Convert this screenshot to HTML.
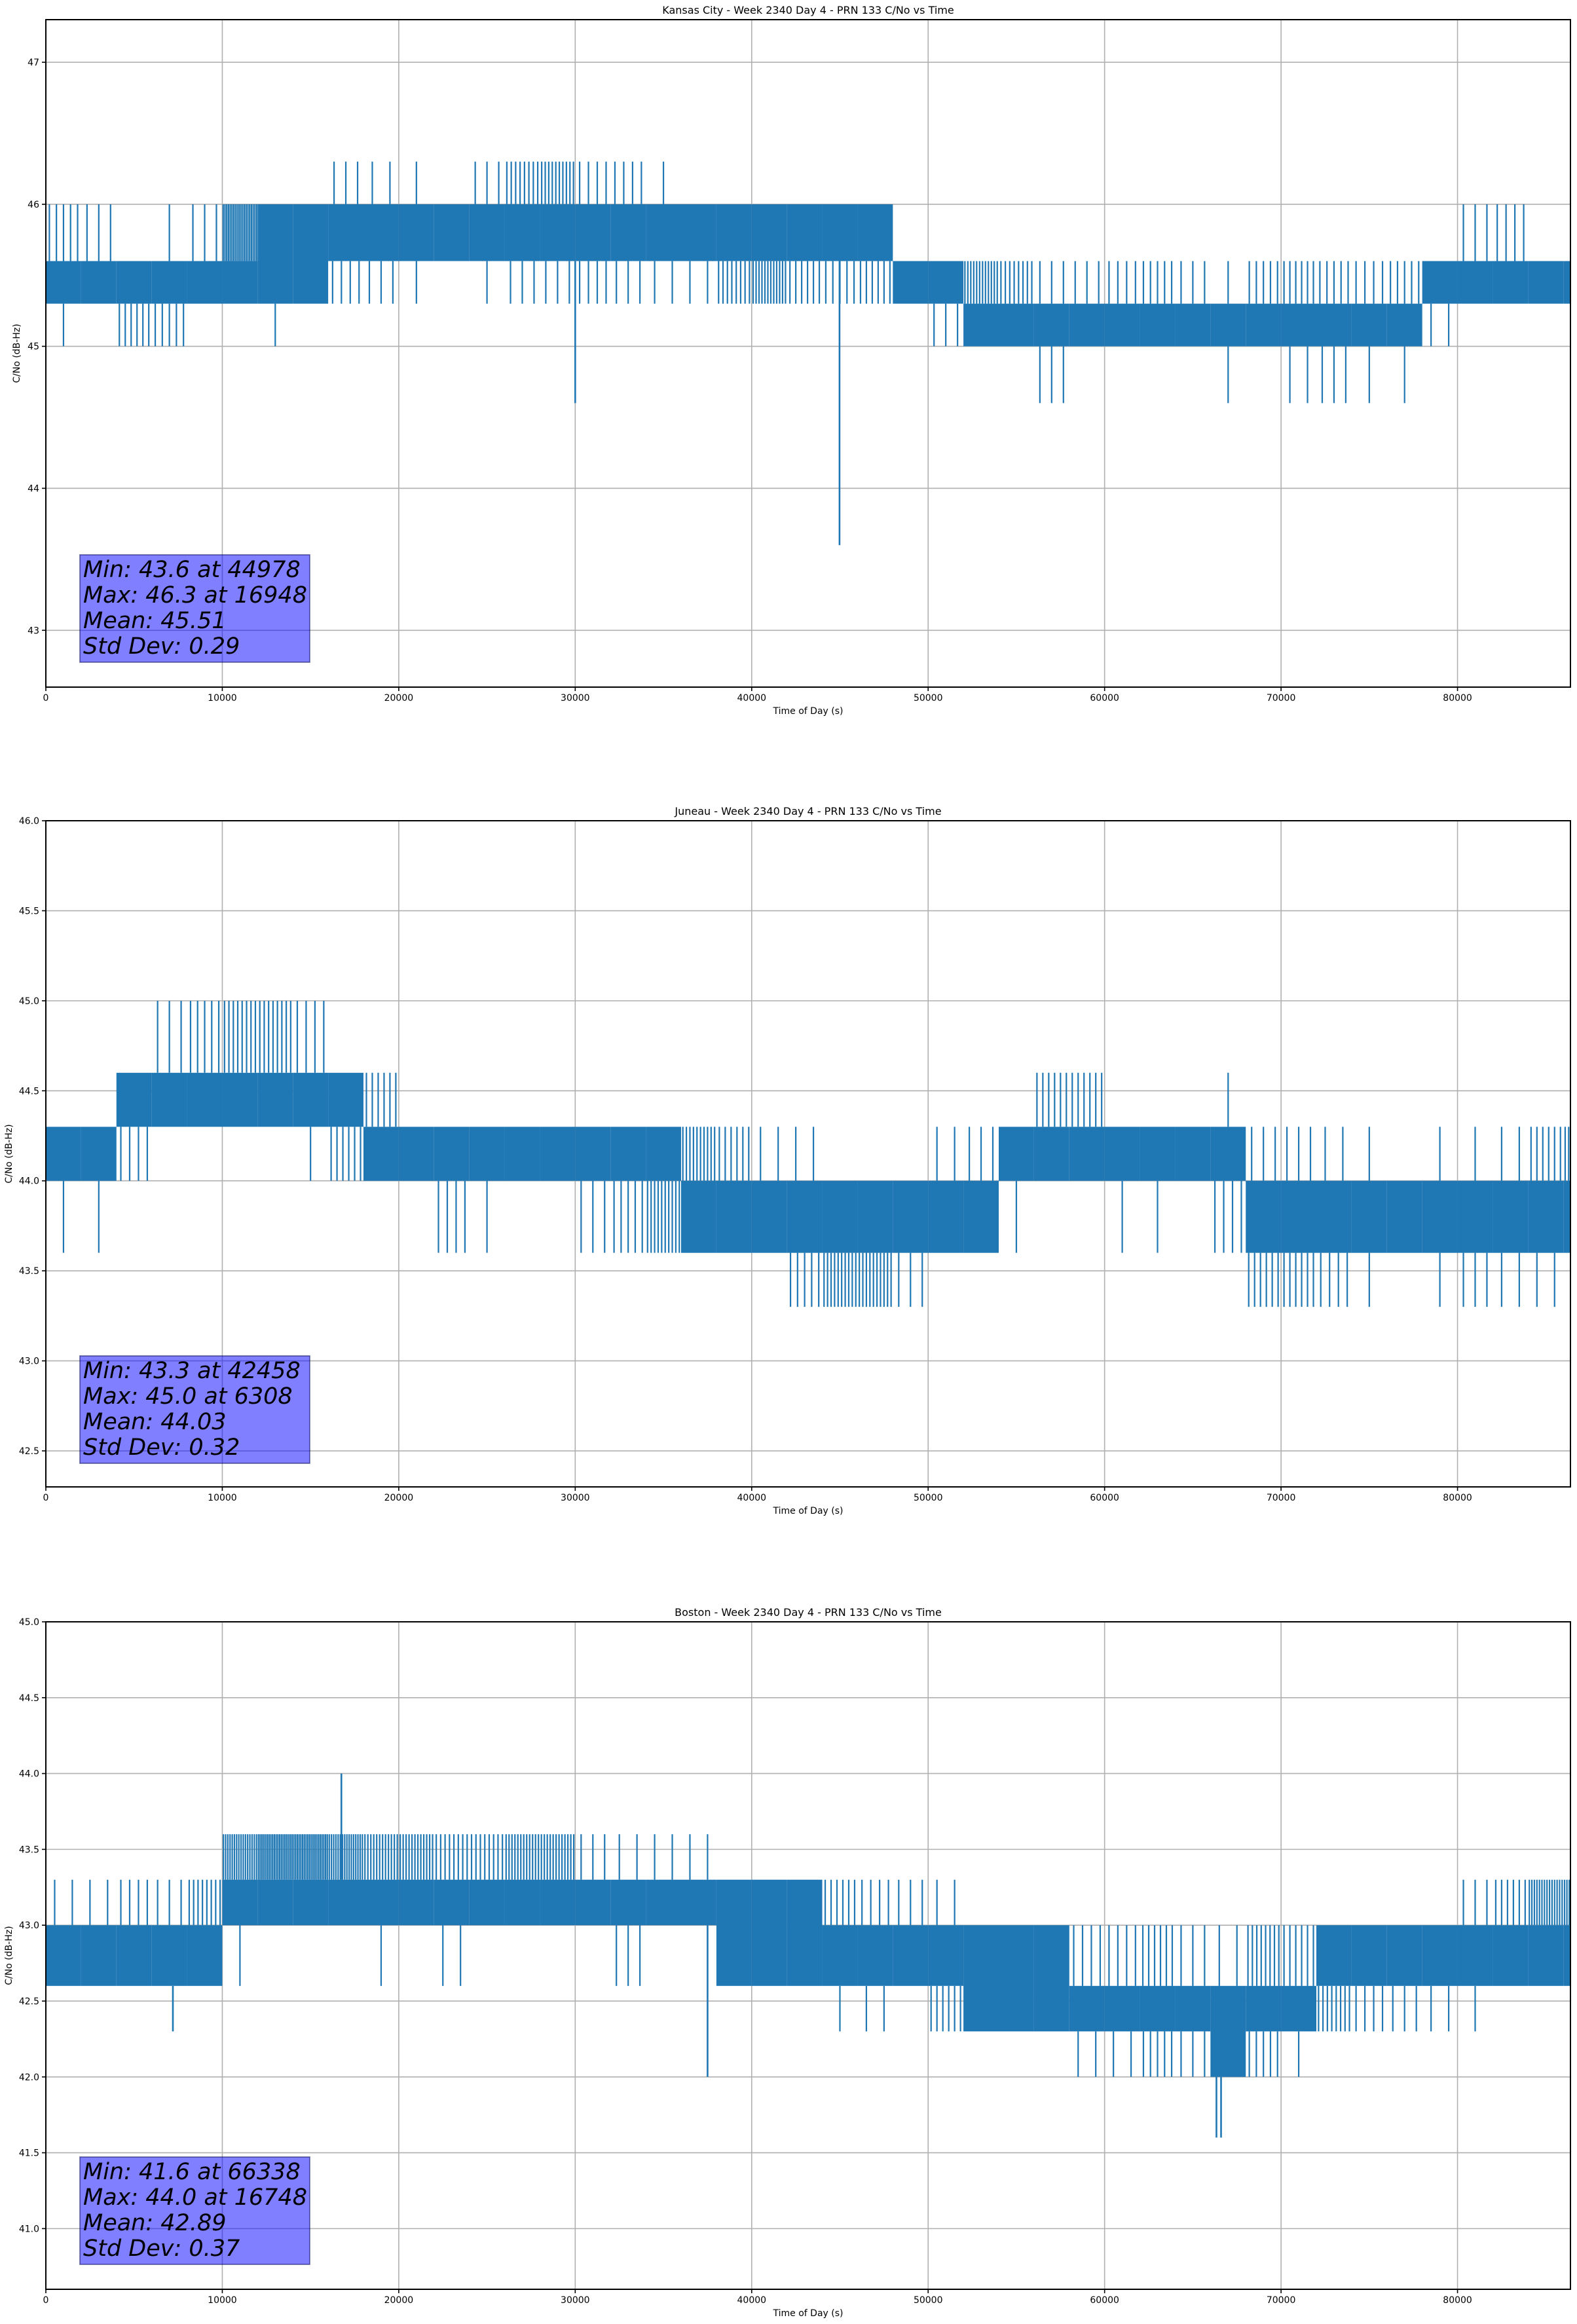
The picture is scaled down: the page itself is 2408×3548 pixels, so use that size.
<!DOCTYPE html>
<html>
<head>
<meta charset="utf-8">
<style>
html,body{margin:0;padding:0;background:#fff;}
svg{display:block;}
text{font-family:"DejaVu Sans","Liberation Sans",sans-serif;fill:#000;}
</style>
</head>
<body>
<svg id="fig" width="2408" height="3548" viewBox="0 0 2408 3548" xmlns="http://www.w3.org/2000/svg"></svg>
<script>
// ---------- Chart data (2000 s bins) ----------
const binStarts = [0,2000,4000,6000,8000,10000,12000,14000,16000,18000,20000,22000,24000,26000,28000,30000,32000,34000,36000,38000,40000,42000,44000,46000,48000,50000,52000,54000,56000,58000,60000,62000,64000,66000,68000,70000,72000,74000,76000,78000,80000,82000,84000,86000];

// Kansas City
const kcLo   = [45.3,45.3,45.3,45.3,45.3,45.3,45.3,45.3,45.6,45.6,45.6,45.6,45.6,45.6,45.6,45.6,45.6,45.6,45.6,45.6,45.6,45.6,45.6,45.6,45.3,45.3,45.0,45.0,45.0,45.0,45.0,45.0,45.0,45.0,45.0,45.0,45.0,45.0,45.0,45.3,45.3,45.3,45.3,45.3];
const kcHi   = [45.6,45.6,45.6,45.6,45.6,45.6,46.0,46.0,46.0,46.0,46.0,46.0,46.0,46.0,46.0,46.0,46.0,46.0,46.0,46.0,46.0,46.0,46.0,46.0,45.6,45.6,45.3,45.3,45.3,45.3,45.3,45.3,45.3,45.3,45.3,45.3,45.3,45.3,45.3,45.6,45.6,45.6,45.6,45.6];
const kcUp   = [46.0,46.0,45.6,46.0,46.0,46.0,46.0,46.0,46.3,46.3,46.3,46.0,46.3,46.3,46.3,46.3,46.3,46.3,46.0,46.0,46.0,46.0,46.0,46.0,45.6,45.6,45.6,45.6,45.6,45.6,45.6,45.6,45.6,45.6,45.6,45.6,45.6,45.6,45.6,45.6,46.0,46.0,45.6,45.6];
const kcUpN  = [5,3,0,1,3,20,0,0,3,2,1,0,3,8,10,4,4,1,0,0,0,0,0,0,0,0,12,8,3,3,4,5,3,1,5,6,5,4,5,0,3,4,0,0];
const kcDown = [45.0,45.0,45.0,45.0,45.0,45.0,45.0,45.0,45.3,45.3,45.3,45.3,45.3,45.3,45.3,45.3,45.3,45.3,45.3,45.3,45.3,45.3,45.3,45.3,45.3,45.0,45.0,45.0,44.6,44.6,44.6,44.6,44.6,44.6,44.6,44.6,44.6,44.6,44.6,45.0,45.0,45.0,45.0,45.0];
const kcDownN= [1,0,6,5,0,0,1,0,4,3,1,0,1,3,3,4,3,2,2,8,12,6,5,6,0,3,0,0,3,0,0,0,0,1,0,2,3,1,1,2,0,0,0,0];
const kcPeakT = [30000,44978];
const kcPeakV = [44.6,43.6];

// Juneau
const juLo   = [44.0,44.0,44.3,44.3,44.3,44.3,44.3,44.3,44.3,44.0,44.0,44.0,44.0,44.0,44.0,44.0,44.0,44.0,43.6,43.6,43.6,43.6,43.6,43.6,43.6,43.6,43.6,44.0,44.0,44.0,44.0,44.0,44.0,44.0,43.6,43.6,43.6,43.6,43.6,43.6,43.6,43.6,43.6,43.6];
const juHi   = [44.3,44.3,44.6,44.6,44.6,44.6,44.6,44.6,44.6,44.3,44.3,44.3,44.3,44.3,44.3,44.3,44.3,44.3,44.0,44.0,44.0,44.0,44.0,44.0,44.0,44.0,44.0,44.3,44.3,44.3,44.3,44.3,44.3,44.3,44.0,44.0,44.0,44.0,44.0,44.0,44.0,44.0,44.0,44.0];
const juUp   = [44.3,44.3,44.6,45.0,45.0,45.0,45.0,45.0,44.6,44.6,44.3,44.3,44.3,44.3,44.3,44.3,44.3,44.3,44.3,44.3,44.3,44.3,44.3,44.3,44.3,44.3,44.3,44.3,44.6,44.6,44.6,44.3,44.3,44.6,44.3,44.3,44.3,44.3,44.3,44.3,44.3,44.3,44.3,44.3];
const juUpN  = [0,0,0,3,5,8,8,4,0,6,0,0,0,0,0,0,0,0,10,6,2,2,0,0,0,2,3,0,6,6,0,0,0,1,3,3,2,1,0,1,1,2,6,2];
const juDown = [43.6,43.6,44.0,44.0,44.0,44.0,44.0,44.0,44.0,43.6,43.6,43.6,43.6,43.6,43.6,43.6,43.6,43.6,43.3,43.3,43.3,43.3,43.3,43.3,43.3,43.3,43.3,43.6,43.6,43.6,43.6,43.6,43.6,43.6,43.3,43.3,43.3,43.3,43.3,43.3,43.3,43.3,43.3,43.3];
const juDownN= [1,1,4,0,0,0,0,1,6,0,0,4,1,0,0,3,5,10,0,0,0,5,10,10,3,0,0,1,0,0,1,1,0,4,6,6,4,1,0,1,3,2,2,0];
const juPeakT = [];
const juPeakV = [];

// Boston
const bsLo   = [42.6,42.6,42.6,42.6,42.6,43.0,43.0,43.0,43.0,43.0,43.0,43.0,43.0,43.0,43.0,43.0,43.0,43.0,43.0,42.6,42.6,42.6,42.6,42.6,42.6,42.6,42.3,42.3,42.3,42.3,42.3,42.3,42.3,42.0,42.3,42.3,42.6,42.6,42.6,42.6,42.6,42.6,42.6,42.6];
const bsHi   = [43.0,43.0,43.0,43.0,43.0,43.3,43.3,43.3,43.3,43.3,43.3,43.3,43.3,43.3,43.3,43.3,43.3,43.3,43.3,43.3,43.3,43.3,43.0,43.0,43.0,43.0,43.0,43.0,43.0,42.6,42.6,42.6,42.6,42.6,42.6,42.6,43.0,43.0,43.0,43.0,43.0,43.0,43.0,43.0];
const bsUp   = [43.3,43.3,43.3,43.3,43.3,43.6,43.6,43.6,43.6,43.6,43.6,43.6,43.6,43.6,43.6,43.6,43.6,43.6,43.6,43.6,43.6,43.6,43.3,43.3,43.3,43.3,43.3,43.3,43.3,43.0,43.0,43.0,43.0,43.0,43.0,43.0,43.3,43.3,43.3,43.3,43.3,43.3,43.3,43.3];
const bsUpN  = [2,2,4,3,8,16,20,20,16,12,12,8,8,12,12,3,2,2,2,0,0,0,6,4,3,2,0,0,0,4,4,6,3,2,8,6,0,0,0,0,3,6,14,3];
const bsDown = [42.3,42.3,42.3,42.3,42.3,42.6,42.6,42.6,42.6,42.6,42.6,42.6,42.6,42.6,42.6,42.6,42.6,42.6,42.6,42.3,42.3,42.3,42.3,42.3,42.3,42.3,42.0,42.0,42.0,42.0,42.0,42.0,42.0,42.0,42.0,42.0,42.3,42.3,42.3,42.3,42.3,42.3,42.3,42.3];
const bsDownN= [0,0,0,0,0,1,0,0,0,1,0,2,0,0,0,0,3,0,0,0,0,0,1,2,0,6,0,0,0,2,2,5,3,0,5,1,8,4,3,2,1,0,0,0];
const bsPeakT = [7200,16748,37500,66338,66600];
const bsPeakV = [42.3,44.0,42.0,41.6,41.6];

const xTicks = [0,10000,20000,30000,40000,50000,60000,70000,80000];
const kcYTicks = [43,44,45,46,47];
const juYTicks = [42.5,43.0,43.5,44.0,44.5,45.0,45.5,46.0];
const bsYTicks = [41.0,41.5,42.0,42.5,43.0,43.5,44.0,44.5,45.0];
const kcStats = ["Min: 43.6 at 44978","Max: 46.3 at 16948","Mean: 45.51","Std Dev: 0.29"];
const juStats = ["Min: 43.3 at 42458","Max: 45.0 at 6308","Mean: 44.03","Std Dev: 0.32"];
const bsStats = ["Min: 41.6 at 66338","Max: 44.0 at 16748","Mean: 42.89","Std Dev: 0.37"];

// ---------- rendering ----------
const NS = "http://www.w3.org/2000/svg";
const svg = document.getElementById('fig');
const BLUE = "#1f77b4";
const L = 70, R = 2398, X0 = 0, X1 = 86400, BIN = 2000;

function mk(tag, attrs, parent){
  const e = document.createElementNS(NS, tag);
  for (const k in attrs) e.setAttribute(k, attrs[k]);
  (parent || svg).appendChild(e);
  return e;
}

function drawChart(cfg){
  const H = cfg.h;
  const top = cfg.top, bot = top + H;
  const g = mk('g', {});
  
  
  const xs = t => L + (t - X0) / (X1 - X0) * (R - L);
  const ys = v => bot - (v - cfg.ymin) / (cfg.ymax - cfg.ymin) * H;

  const grid = mk('g', {}, g);
  
  
  xTicks.forEach(t => mk('line', {x1:xs(t), x2:xs(t), y1:top, y2:bot, stroke:'#b0b0b0', 'stroke-width':1.6}, grid));
  cfg.yTicks.forEach(v => mk('line', {x1:L, x2:R, y1:ys(v), y2:ys(v), stroke:'#b0b0b0', 'stroke-width':1.6}, grid));

  const ser = mk('g', {}, g);
  
  
  binStarts.forEach((t0, i) => {
    const t1 = Math.min(t0 + BIN, X1);
    const xa = xs(t0), xb = xs(t1);
    const r = mk('rect', {x:xa, y:ys(cfg.hi[i]), width:Math.max(1, xb - xa), height:ys(cfg.lo[i]) - ys(cfg.hi[i]), fill:BLUE}, ser);
    
    
    const nu = cfg.upN[i];
    for (let k = 0; k < nu; k++){
      const x = xs(t0 + (k + 0.5) / nu * (t1 - t0));
      const ln = mk('line', {x1:x, x2:x, y1:ys(cfg.hi[i]), y2:ys(cfg.up[i]), stroke:BLUE, 'stroke-width':2.2}, ser);
      
      
    }
    const nd = cfg.downN[i];
    for (let k = 0; k < nd; k++){
      const x = xs(t0 + (k + 0.5) / nd * (t1 - t0));
      const ln = mk('line', {x1:x, x2:x, y1:ys(cfg.lo[i]), y2:ys(cfg.down[i]), stroke:BLUE, 'stroke-width':2.2}, ser);
      
      
    }
  });
  cfg.peakT.forEach((t, j) => {
    const i = Math.min(binStarts.length - 1, Math.floor(t / BIN));
    const from = cfg.peakV[j] > cfg.hi[i] ? cfg.hi[i] : cfg.lo[i];
    const ln = mk('line', {x1:xs(t), x2:xs(t), y1:ys(from), y2:ys(cfg.peakV[j]), stroke:BLUE, 'stroke-width':2.6}, ser);
    
    
  });

  const fr = mk('rect', {x:L, y:top, width:R - L, height:H, fill:'none', stroke:'#000', 'stroke-width':2}, g);
  
  

  xTicks.forEach(t => {
    mk('line', {x1:xs(t), x2:xs(t), y1:bot, y2:bot + 6, stroke:'#000', 'stroke-width':1.6}, g);
    const tx = mk('text', {x:xs(t), y:bot + 21, 'font-size':14, 'text-anchor':'middle'}, g);
    tx.textContent = t;
    
    
  });
  cfg.yTicks.forEach(v => {
    mk('line', {x1:L - 6, x2:L, y1:ys(v), y2:ys(v), stroke:'#000', 'stroke-width':1.6}, g);
    const tx = mk('text', {x:L - 10, y:ys(v) + 5, 'font-size':14, 'text-anchor':'end'}, g);
    tx.textContent = cfg.yDec ? v.toFixed(1) : String(v);
    
    
  });
  const xl = mk('text', {x:(L + R) / 2, y:bot + 41, 'font-size':14, 'text-anchor':'middle'}, g);
  xl.textContent = 'Time of Day (s)';
  
  
  const cy = (top + bot) / 2, lx = cfg.ylx;
  const yl = mk('text', {x:lx, y:cy, 'font-size':14, 'text-anchor':'middle', transform:'rotate(-90 ' + lx + ' ' + cy + ')'}, g);
  yl.textContent = 'C/No (dB-Hz)';
  
  
  const ti = mk('text', {x:(L + R) / 2, y:top - 9, 'font-size':16, 'text-anchor':'middle'}, g);
  ti.textContent = cfg.title;
  
  

  const bt = top + 817;
  const bx = mk('rect', {x:122, y:bt, width:351, height:164, fill:'rgba(0,0,255,0.5)', stroke:'rgba(0,0,80,0.45)', 'stroke-width':2}, g);
  
  
  cfg.stats.forEach((s, k) => {
    const tx = mk('text', {x:127, y:bt + 34 + k * 39, 'font-size':35, 'font-style':'italic'}, g);
    tx.textContent = s;
    
    
  });
}

drawChart({key:'kansas-city', top:30, h:1019, ylx:30, ymin:42.6, ymax:47.3, yTicks:kcYTicks, yDec:false,
  lo:kcLo, hi:kcHi, up:kcUp, upN:kcUpN, down:kcDown, downN:kcDownN, peakT:kcPeakT, peakV:kcPeakV,
  title:'Kansas City - Week 2340 Day 4 - PRN 133 C/No vs Time', stats:kcStats});
drawChart({key:'juneau', top:1253, h:1017, ylx:18, ymin:42.3, ymax:46.0, yTicks:juYTicks, yDec:true,
  lo:juLo, hi:juHi, up:juUp, upN:juUpN, down:juDown, downN:juDownN, peakT:juPeakT, peakV:juPeakV,
  title:'Juneau - Week 2340 Day 4 - PRN 133 C/No vs Time', stats:juStats});
drawChart({key:'boston', top:2476, h:1019, ylx:18, ymin:40.6, ymax:45.0, yTicks:bsYTicks, yDec:true,
  lo:bsLo, hi:bsHi, up:bsUp, upN:bsUpN, down:bsDown, downN:bsDownN, peakT:bsPeakT, peakV:bsPeakV,
  title:'Boston - Week 2340 Day 4 - PRN 133 C/No vs Time', stats:bsStats});
</script>
</body>
</html>
